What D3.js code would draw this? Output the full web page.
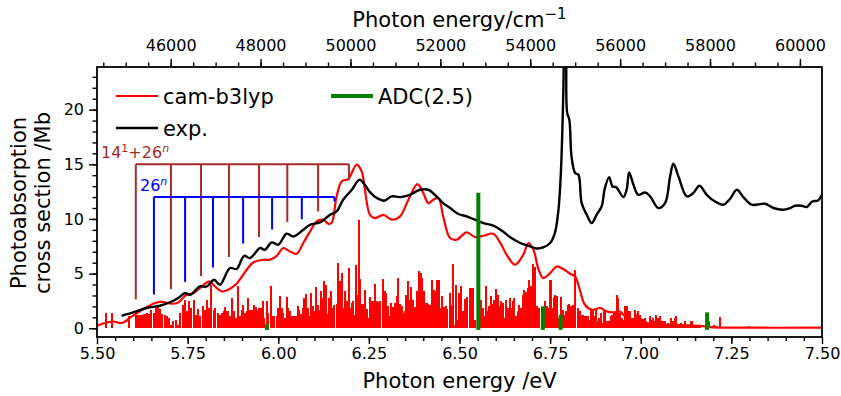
<!DOCTYPE html>
<html>
<head>
<meta charset="utf-8">
<script src="https://cdn.jsdelivr.net/npm/d3@7"></script>
<style>
  body { margin: 0; background: #fff; }
  text { font-family: "DejaVu Sans", sans-serif; fill: #000; }
</style>
</head>
<body>
<svg id="chart" width="841" height="396"></svg>
<script>
// computed stick spectrum (cam-b3lyp), energy in eV / cross section in Mb
const stickE = [5.526,5.541,5.589,5.609,5.615,5.620,5.626,5.631,5.638,5.644,5.650,5.656,5.663,5.668,5.675,5.680,5.687,5.693,5.698,5.704,5.710,5.717,5.723,5.730,5.737,5.744,5.748,5.755,5.760,5.767,5.772,5.779,5.785,5.792,5.797,5.803,5.810,5.815,5.822,5.826,5.833,5.838,5.845,5.851,
  5.853,5.860,5.867,5.873,5.879,5.883,5.888,5.894,5.899,5.904,5.908,5.914,5.917,5.922,5.927,5.930,5.934,5.939,5.943,5.948,5.952,5.957,5.962,5.968,5.973,5.979,5.984,5.989,5.996,6.000,6.005,6.009,6.014,6.019,6.023,6.028,6.032,6.037,6.043,6.049,6.054,6.058,6.063,6.067,6.072,6.077,6.081,6.086,6.090,6.095,6.100,6.104,6.109,6.113,6.118,6.123,6.127,6.132,6.136,6.141,6.146,6.150,6.155,6.161,6.166,6.170,6.175,6.180,6.184,6.191,6.195,6.200,6.204,
  6.206,6.211,6.214,6.218,6.222,6.226,6.232,6.237,6.239,6.244,6.249,6.254,6.260,6.263,6.268,6.272,6.277,6.282,6.289,6.294,6.298,6.303,6.307,6.312,6.317,6.322,6.327,6.330,6.336,6.340,6.345,6.349,6.353,6.358,6.363,6.367,6.372,6.377,6.383,6.388,6.393,6.397,6.402,6.406,6.409,6.414,6.420,6.424,6.429,6.433,6.438,6.443,6.447,6.453,6.457,6.462,6.466,6.473,6.477,6.482,6.487,6.491,6.496,6.500,6.505,6.510,6.516,6.522,6.528,6.533,6.537,6.542,6.554,6.558,
  6.559,6.564,6.569,6.573,6.578,6.582,6.587,6.591,6.596,6.601,6.605,6.610,6.614,6.619,6.624,6.628,6.633,6.638,6.642,6.647,6.651,6.656,6.661,6.665,6.670,6.674,6.679,6.683,6.688,6.693,6.697,6.702,6.707,6.709,6.714,6.720,6.732,6.737,6.741,6.746,6.751,6.755,6.760,6.764,6.769,6.774,6.780,6.785,6.789,6.794,6.798,6.803,6.808,6.812,6.817,6.819,6.826,6.831,6.835,6.840,6.844,6.849,6.854,6.858,6.863,6.867,6.872,6.877,6.881,6.886,6.890,6.895,6.900,6.907,
  6.912,6.917,6.922,6.926,6.931,6.934,6.938,6.943,6.947,6.952,6.957,6.961,6.966,6.969,6.974,6.979,6.983,6.988,6.992,6.997,7.002,7.006,7.011,7.015,7.020,7.025,7.029,7.034,7.038,7.043,7.048,7.052,7.057,7.061,7.066,7.071,7.075,7.080,7.084,7.089,7.094,7.098,7.103,7.107,7.112,7.117,7.121,7.126,7.130,7.135,7.140,7.144,7.149,7.153,7.158,7.163,7.188,7.196,7.202,7.209,7.218,7.299];
const stickH = [1.40,1.40,1.09,1.24,1.18,1.24,1.18,1.30,1.39,1.30,1.70,1.39,1.85,2.15,1.79,1.30,1.24,1.09,0.93,0.32,0.63,0.78,0.32,1.39,2.15,2.61,1.54,2.45,1.85,2.61,1.24,1.79,1.09,2.00,1.70,2.61,1.85,3.98,1.70,1.85,1.39,1.24,1.39,1.54,
  1.91,1.60,1.09,2.76,1.60,0.93,3.89,1.09,1.70,2.15,1.39,1.54,2.76,1.70,1.70,0.78,2.15,1.91,1.70,1.85,1.85,2.45,0.93,2.45,1.39,3.89,1.09,1.15,1.15,1.85,2.91,1.85,1.39,0.93,2.82,1.85,1.54,1.09,1.15,1.15,2.00,1.70,1.30,1.85,2.76,3.12,1.85,1.09,3.22,2.00,1.54,3.74,2.15,1.70,3.37,2.76,4.28,3.92,1.30,2.76,3.43,1.85,2.15,2.21,5.96,4.28,5.05,1.85,3.43,2.45,5.50,1.85,2.30,
  2.45,1.18,5.81,3.06,9.86,4.53,2.21,2.21,3.52,1.79,0.93,2.82,2.52,1.09,4.04,2.45,2.36,2.45,4.53,3.37,3.22,2.00,1.09,2.30,1.91,2.30,2.91,4.59,2.21,2.00,1.39,1.54,3.06,4.35,2.61,3.74,2.61,1.91,3.37,5.26,5.05,4.59,3.37,0.78,2.30,2.21,2.15,4.44,3.52,3.37,4.44,4.44,1.85,2.91,1.91,2.00,1.76,3.22,2.15,5.87,0.32,3.98,0.78,3.22,3.83,1.54,2.70,2.82,3.68,3.68,3.68,0.78,2.61,2.61,
  2.45,1.85,1.09,3.83,1.60,2.00,2.91,2.21,2.61,3.62,3.06,2.00,2.45,2.30,0.93,2.61,1.85,2.76,1.85,2.52,2.76,1.09,1.54,2.15,1.85,3.06,3.52,3.31,3.68,4.44,3.83,5.87,2.06,5.56,2.00,1.85,1.85,2.45,2.00,1.85,4.44,1.85,2.82,3.06,2.91,0.93,2.82,1.70,1.24,1.54,2.15,2.21,2.00,2.15,1.39,5.29,1.85,1.54,1.24,1.24,1.15,1.15,1.09,0.78,1.70,1.60,1.09,1.85,0.63,0.93,1.39,0.47,1.54,0.63,
  0.63,1.09,1.24,1.39,1.54,3.00,2.76,1.39,0.93,0.78,2.00,2.00,1.24,1.54,0.78,0.93,1.70,1.30,1.60,1.18,0.93,0.87,0.93,0.63,0.47,1.09,0.78,0.93,0.63,1.24,0.93,1.09,0.63,0.63,0.63,0.32,0.47,0.32,0.93,0.63,0.93,1.09,0.32,0.32,0.47,0.32,0.63,0.32,0.32,0.38,0.69,0.32,0.32,0.32,0.32,0.32,0.63,0.17,0.32,0.17,0.99,0.25];

// broadened cam-b3lyp spectrum
const camE = [5.499,5.527,5.545,5.568,5.596,5.628,5.660,5.678,5.706,5.724,5.747,5.766,5.784,5.798,5.810,5.826,5.844,5.862,5.885,5.913,5.931,5.959,5.977,5.996,6.014,6.032,6.051,6.069,6.088,6.106,6.124,6.138,6.147,6.161,6.175,6.193,6.216,6.230,6.239,6.253,6.267,6.290,6.313,6.336,6.359,6.384,6.400,6.414,6.428,6.442,6.455,6.474,6.492,6.520,6.543,6.566,6.593,6.612,6.630,6.653,6.676,6.690,6.704,6.717,6.731,6.750,6.768,6.786,6.805,6.819,6.832,6.846,6.865,6.888,6.906,6.924,6.943,6.961,6.989,7.016,7.053,7.090,7.127,7.163,7.191,7.250,7.500];
const camY = [0.23,0.53,0.62,0.48,1.08,1.76,2.31,2.42,2.24,2.36,3.06,3.22,3.68,4.07,4.28,3.82,3.37,3.52,4.07,5.35,6.02,6.27,6.27,6.63,7.34,7.03,6.82,7.80,8.86,9.77,9.93,9.56,9.62,12.06,13.43,13.65,14.96,14.35,12.67,10.38,10.08,10.38,9.93,10.23,11.76,13.19,12.37,11.45,11.76,11.91,10.23,8.25,8.10,8.77,8.34,8.46,8.65,7.85,6.72,5.81,6.72,7.80,7.18,5.51,4.59,5.05,5.65,5.42,4.99,4.74,3.50,2.15,1.69,1.85,1.54,1.45,1.54,0.93,0.78,0.48,0.32,0.32,0.26,0.23,0.11,0.06,0.05];

// experimental spectrum
const expE = [5.568,5.600,5.637,5.674,5.706,5.724,5.743,5.757,5.784,5.803,5.823,5.839,5.867,5.885,5.906,5.922,5.950,5.963,5.982,6.000,6.023,6.042,6.069,6.088,6.115,6.143,6.161,6.179,6.203,6.224,6.239,6.253,6.272,6.292,6.313,6.336,6.363,6.391,6.414,6.432,6.455,6.474,6.497,6.520,6.543,6.566,6.593,6.616,6.639,6.667,6.690,6.713,6.731,6.750,6.763,6.773,6.780,6.786,6.790,6.794,6.797,6.803,6.809,6.819,6.828,6.837,6.851,6.865,6.878,6.892,6.901,6.913,6.922,6.932,6.952,6.961,6.968,6.979,6.993,7.012,7.026,7.048,7.067,7.081,7.090,7.104,7.127,7.145,7.162,7.182,7.205,7.228,7.246,7.265,7.283,7.306,7.329,7.343,7.366,7.393,7.412,7.426,7.444,7.458,7.473,7.489,7.500];
const expY = [1.14,1.45,1.85,2.06,2.45,2.76,3.22,3.06,3.82,3.82,4.44,3.98,5.51,5.42,6.63,6.42,7.34,7.18,7.85,7.64,8.65,8.40,9.01,9.47,9.68,10.38,10.69,11.76,12.67,13.59,13.13,12.45,11.91,11.67,12.06,12.00,12.21,12.67,12.67,12.21,11.45,11.00,10.45,10.23,9.93,9.62,9.38,8.95,8.34,7.80,7.55,7.30,7.39,7.80,8.71,10.84,14.50,21.00,27.00,25.00,19.70,19.08,15.72,14.20,14.04,11.45,10.38,9.62,10.38,11.14,12.82,13.83,12.97,12.91,12.00,12.67,14.25,13.22,12.21,12.42,12.06,11.00,11.45,13.89,15.05,13.89,12.06,12.37,13.04,12.21,11.60,11.30,11.82,12.67,12.00,11.30,11.36,11.39,11.00,10.84,11.00,11.21,11.21,11.09,11.60,11.69,12.20];

// ADC(2.5) sticks
const adcE = [5.969, 6.552, 6.730, 6.779, 7.183];
const adcH = [0.38, 12.4, 2.0, 1.23, 1.45];

// vibrational progressions
const prog14E = [5.607, 5.704, 5.787, 5.864, 5.947, 6.025, 6.110, 6.195];
const prog14Low = [2.65, 3.57, 4.78, 6.52, 8.35, 9.73, 10.68, 13.54];
const prog14Top = 15.0;
const prog26E = [5.657, 5.743, 5.820, 5.903, 5.983, 6.065, 6.155];
const prog26Low = [3.08, 4.24, 5.55, 7.75, 9.03, 9.97, 11.6];
const prog26Top = 12.0;

const eVtoCm = 8065.54;
const cmTicks = [46000, 48000, 50000, 52000, 54000, 56000, 58000, 60000];

const svg = d3.select("#chart");
const pL = 97, pR = 822, pT = 67, pB = 337;

const x = d3.scaleLinear().domain([5.5, 7.5]).range([pL, pR]);
const y = d3.scaleLinear().domain([-0.8, 23.9]).range([pB, pT]);
const xCm = d3.scaleLinear().domain([5.5 * eVtoCm, 7.5 * eVtoCm]).range([pL, pR]);

svg.append("clipPath").attr("id", "plotClip")
  .append("rect").attr("x", pL).attr("y", pT).attr("width", pR - pL).attr("height", pB - pT);

const plot = svg.append("g").attr("clip-path", "url(#plotClip)");

// red sticks
const sticks = stickE.map((e, i) => ({ e: e, h: stickH[i] }));
plot.selectAll("rect.stick")
  .data(sticks)
  .enter()
  .append("rect")
  .attr("class", "stick")
  .attr("x", d => x(d.e - 0.0028))
  .attr("width", d => x(d.e + 0.0028) - x(d.e - 0.0028))
  .attr("y", d => y(d.h))
  .attr("height", d => y(0) - y(d.h))
  .attr("shape-rendering", "crispEdges")
  .style("fill", "#ff0000");

const line = d3.line().x(d => x(d[0])).y(d => y(d[1])).curve(d3.curveCatmullRom.alpha(0.5));

plot.append("path")
  .datum(camE.map((e, i) => [e, camY[i]]))
  .attr("d", line)
  .style("fill", "none").style("stroke", "#ff0000").style("stroke-width", 2.2);

plot.append("path")
  .datum(expE.map((e, i) => [e, expY[i]]))
  .attr("d", line)
  .style("fill", "none").style("stroke", "#000").style("stroke-width", 2.4);

// progression combs
function drawComb(energies, lows, level, color) {
  plot.append("line")
    .attr("x1", x(energies[0])).attr("x2", x(energies[energies.length - 1]))
    .attr("y1", y(level)).attr("y2", y(level))
    .style("stroke", color).style("stroke-width", 2);
  plot.selectAll(null)
    .data(energies)
    .enter()
    .append("line")
    .attr("x1", d => x(d)).attr("x2", d => x(d))
    .attr("y1", y(level)).attr("y2", (d, i) => y(lows[i]))
    .style("stroke", color).style("stroke-width", 2);
}
drawComb(prog14E, prog14Low, prog14Top, "#a52a2a");
drawComb(prog26E, prog26Low, prog26Top, "#0000ff");

// ADC sticks
plot.selectAll("rect.adc")
  .data(adcE.map((e, i) => ({ e: e, h: adcH[i] })))
  .enter()
  .append("rect")
  .attr("x", d => x(d.e) - 2)
  .attr("width", 4)
  .attr("y", d => y(d.h))
  .attr("height", d => y(-0.15) - y(d.h))
  .style("fill", "#008000");

// annotations
const a14 = svg.append("text").attr("x", 101).attr("y", 158).style("font-size", "16px").style("fill", "#a52a2a");
a14.append("tspan").text("14");
a14.append("tspan").attr("dy", -6).style("font-size", "11px").text("1");
a14.append("tspan").attr("dy", 6).text("+26");
a14.append("tspan").attr("dy", -6).style("font-size", "11px").style("font-style", "italic").text("n");

const a26 = svg.append("text").attr("x", 140).attr("y", 191).style("font-size", "16px").style("fill", "#0000ff");
a26.append("tspan").text("26");
a26.append("tspan").attr("dy", -6).style("font-size", "11px").style("font-style", "italic").text("n");

// axes
function styleAxis(g, size) {
  g.select(".domain").remove();
  g.selectAll(".tick line").style("stroke", "#000").style("stroke-width", 1.4);
  g.selectAll(".tick text").style("font-size", size).style("font-family", "DejaVu Sans");
}

const bottomAxis = svg.append("g").attr("transform", `translate(0,${pB})`)
  .call(d3.axisBottom(x).tickValues(d3.range(5.5, 7.51, 0.25)).tickFormat(d3.format(".2f")).tickSize(7).tickPadding(4));
styleAxis(bottomAxis, "16px");
const bottomMinor = svg.append("g").attr("transform", `translate(0,${pB})`)
  .call(d3.axisBottom(x).tickValues(d3.range(5.55, 7.5, 0.05)).tickFormat("").tickSize(4));
styleAxis(bottomMinor, "0px");

const leftAxis = svg.append("g").attr("transform", `translate(${pL},0)`)
  .call(d3.axisLeft(y).tickValues([0, 5, 10, 15, 20]).tickSize(8).tickPadding(5));
styleAxis(leftAxis, "16px");
const leftMinor = svg.append("g").attr("transform", `translate(${pL},0)`)
  .call(d3.axisLeft(y).tickValues(d3.range(0, 24, 1)).tickFormat("").tickSize(4.5));
styleAxis(leftMinor, "0px");

const topAxis = svg.append("g").attr("transform", `translate(0,${pT})`)
  .call(d3.axisTop(xCm).tickValues(cmTicks).tickSize(8).tickPadding(8));
styleAxis(topAxis, "16px");
topAxis.selectAll(".tick text").text(d => d);
const topMinor = svg.append("g").attr("transform", `translate(0,${pT})`)
  .call(d3.axisTop(xCm).tickValues(d3.range(44500, 60001, 500)).tickFormat("").tickSize(4.5));
styleAxis(topMinor, "0px");

svg.append("rect")
  .attr("x", pL).attr("y", pT).attr("width", pR - pL).attr("height", pB - pT)
  .style("fill", "none").style("stroke", "#000").style("stroke-width", 1.8);

// axis labels
svg.append("text").attr("x", (pL + pR) / 2).attr("y", 388)
  .attr("text-anchor", "middle").style("font-size", "21px").text("Photon energy /eV");

const topLabel = svg.append("text").attr("x", (pL + pR) / 2).attr("y", 27)
  .attr("text-anchor", "middle").style("font-size", "21px");
topLabel.append("tspan").text("Photon energy/cm");
topLabel.append("tspan").attr("dy", -8).style("font-size", "15px").text("\u22121");

const yLabel = svg.append("g").attr("transform", "translate(0,203) rotate(-90)");
yLabel.append("text").attr("x", 0).attr("y", 26).attr("text-anchor", "middle")
  .style("font-size", "21px").text("Photoabsorption");
yLabel.append("text").attr("x", 0).attr("y", 50).attr("text-anchor", "middle")
  .style("font-size", "21px").text("cross section /Mb");

// legend
const legend = [
  { label: "cam-b3lyp", color: "#ff0000", w: 2.2, x0: 116, ly: 96 },
  { label: "exp.", color: "#000", w: 2.4, x0: 116, ly: 128 },
  { label: "ADC(2.5)", color: "#008000", w: 4, x0: 331, ly: 96 }
];
const lg = svg.append("g");
legend.forEach(d => {
  lg.append("line").attr("x1", d.x0).attr("x2", d.x0 + 42).attr("y1", d.ly).attr("y2", d.ly)
    .style("stroke", d.color).style("stroke-width", d.w);
  lg.append("text").attr("x", d.x0 + 47).attr("y", d.ly + 7.5)
    .style("font-size", "21px").text(d.label);
});
</script>
</body>
</html>
